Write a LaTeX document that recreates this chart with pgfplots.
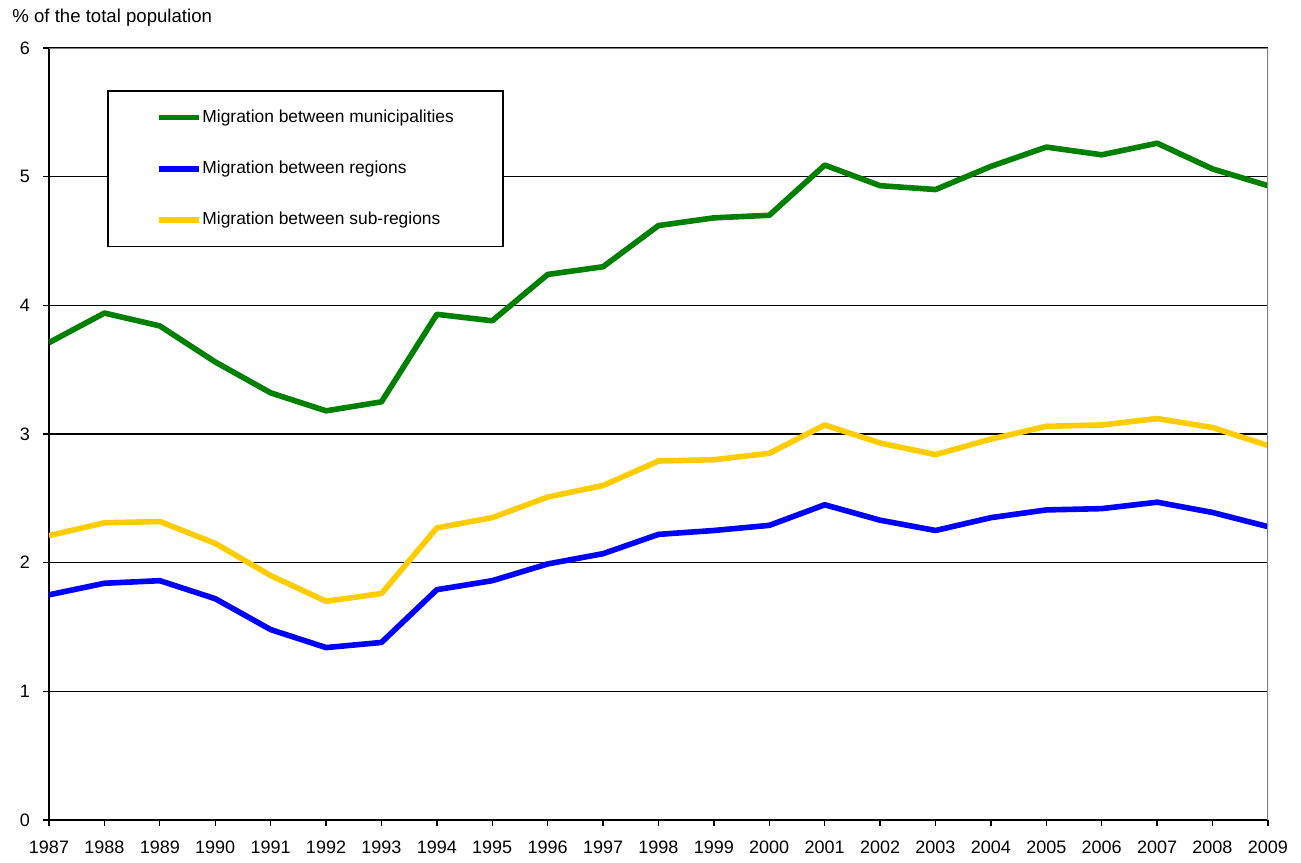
\documentclass[border=0pt]{standalone}
\usepackage{fontspec}
\setmainfont{Liberation Sans}
\usepackage{pgfplots}
\pgfplotsset{compat=1.18}
\definecolor{cgreen}{RGB}{0,128,0}
\definecolor{cblue}{RGB}{0,0,255}
\definecolor{cyellow}{RGB}{255,204,0}

\pgfplotstableread{
year mun reg sub
1987 3.71 1.75 2.21
1988 3.94 1.84 2.31
1989 3.84 1.86 2.32
1990 3.56 1.72 2.15
1991 3.32 1.48 1.90
1992 3.18 1.34 1.70
1993 3.25 1.38 1.76
1994 3.93 1.79 2.27
1995 3.88 1.86 2.35
1996 4.24 1.99 2.51
1997 4.30 2.07 2.60
1998 4.62 2.22 2.79
1999 4.68 2.25 2.80
2000 4.70 2.29 2.85
2001 5.09 2.45 3.07
2002 4.93 2.33 2.93
2003 4.90 2.25 2.84
2004 5.08 2.35 2.96
2005 5.23 2.41 3.06
2006 5.17 2.42 3.07
2007 5.26 2.47 3.12
2008 5.06 2.39 3.05
2009 4.93 2.28 2.91
}\datatable

\begin{document}
\begin{tikzpicture}
\begin{axis}[
  scale only axis, width=609.5pt, height=386pt,
  xmin=1987, xmax=2009, ymin=0, ymax=6,
  xtick={1987,...,2009}, ytick={0,...,6},
  /pgf/number format/1000 sep={},
  /pgf/number format/assume math mode=true,
  tick label style={font=\fontsize{9}{10}\selectfont},
  xticklabel style={yshift=-4pt},
  yticklabel style={xshift=-3pt},
  axis lines=left,
  axis line style={-, black, line width=0.8pt},
  tick align=outside, major tick length=3pt,
  tick style={black, line width=0.7pt},
  ymajorgrids, grid style={black, line width=0.7pt},
  title={\% of the total population},
  title style={at={(rel axis cs:0,1)}, anchor=west, xshift=-18.5pt, yshift=9pt, font=\fontsize{9.3}{11}\selectfont, inner sep=0pt},
  legend style={at={(rel axis cs:0.0476,0.9456)}, anchor=north west, draw=black, line width=0.8pt,
    font=\fontsize{8.7}{10}\selectfont, inner xsep=24pt, inner ysep=9pt, row sep=16.75pt,
    nodes={inner sep=0.5pt}},
  legend cell align=left,
  legend image code/.code={\draw[#1, line width=2.8pt] (0pt,0pt) -- (20pt,0pt);},
]
\addplot[cgreen, line width=2.8pt, line join=round] table[x=year, y=mun] {\datatable};
\addlegendentry{Migration between municipalities}
\addplot[cblue, line width=2.8pt, line join=round] table[x=year, y=reg] {\datatable};
\addlegendentry{Migration between regions}
\addplot[cyellow, line width=2.8pt, line join=round] table[x=year, y=sub] {\datatable};
\addlegendentry{Migration between sub-regions}
\draw[gray, line width=0.8pt] (rel axis cs:0,1) -- (rel axis cs:1,1) -- (rel axis cs:1,0);
\end{axis}
\path (current axis.south west) ++(-24.5pt,-21pt) coordinate (bbA);
\path (current axis.north east) ++(16.5pt,24pt) coordinate (bbB);
\pgfresetboundingbox
\useasboundingbox (bbA) rectangle (bbB);
\end{tikzpicture}
\end{document}
